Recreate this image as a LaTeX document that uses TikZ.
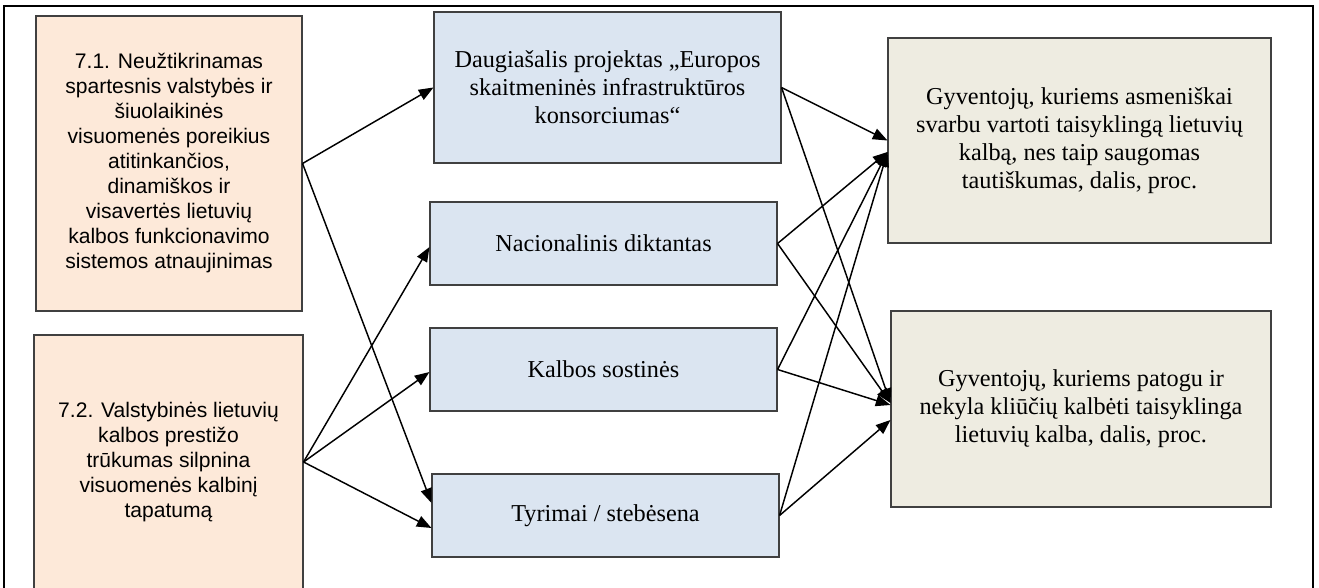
\documentclass[tikz,border=0pt]{standalone}
\usepackage{fontspec}
\setmainfont{Liberation Serif}
\newfontfamily\arialfont{Liberation Sans}
\usetikzlibrary{arrows.meta,calc}
\definecolor{peach}{HTML}{FDE9D9}
\definecolor{lblue}{HTML}{DBE5F1}
\definecolor{beige}{HTML}{EEECE1}
\definecolor{edgegray}{HTML}{404040}
\begin{document}
\begin{tikzpicture}[x=0.75pt,y=0.75pt,
  box/.style={draw=edgegray,line width=0.8pt,inner sep=0pt,align=center},
  prob/.style={box,fill=peach,font=\arialfont\fontsize{15.8}{18.75}\selectfont},
  meas/.style={box,fill=lblue,font=\fontsize{18.2}{21}\selectfont,minimum width=260.25pt,minimum height=62.25pt},
  res/.style={box,fill=beige,font=\fontsize{18.2}{21}\selectfont},
  link/.style={-{Triangle[length=11pt,width=8.5pt]},line width=1.1pt,black}]
\clip (0,0) rectangle (1319,587);
\fill[white] (0,0) rectangle (1319,587);
\draw[line width=1.6pt] (4,-5) -- (4,581) -- (1313,581) -- (1313,-5);

\node[prob,minimum width=199.5pt,minimum height=221.25pt] (A) at (169,423.5)
  {7.1. Neužtikrinamas\\spartesnis valstybės ir\\šiuolaikinės\\visuomenės poreikius\\atitinkančios,\\dinamiškos ir\\visavertės lietuvių\\kalbos funkcionavimo\\sistemos atnaujinimas};
\node[prob,minimum width=201.75pt,minimum height=190.5pt] (B) at (168.5,125)
  {7.2. Valstybinės lietuvių\\kalbos prestižo\\trūkumas silpnina\\visuomenės kalbinį\\tapatumą};

\node[meas,minimum height=113.25pt] (D) at (607.5,499.5)
  {Daugiašalis projektas „Europos\\skaitmeninės infrastruktūros\\konsorciumas“};
\node[meas] (N) at (603.5,343.5) {Nacionalinis diktantas};
\node[meas] (K) at (603.5,217.5) {Kalbos sostinės};
\node[meas] (T) at (605.5,71.5) {Tyrimai / stebėsena};

\node[res,minimum width=287.25pt,minimum height=153.75pt] (R1) at (1079.5,446.5)
  {Gyventojų, kuriems asmeniškai\\svarbu vartoti taisyklingą lietuvių\\kalbą, nes taip saugomas\\tautiškumas, dalis, proc.};
\node[res,minimum width=285pt,minimum height=147pt] (R2) at (1081,178)
  {Gyventojų, kuriems patogu ir\\nekyla kliūčių kalbėti taisyklinga\\lietuvių kalba, dalis, proc.};

\draw[link] (A.east) -- (D.west);
\draw[link] (A.east) -- ($(T.west)+(0,12.5)$);
\draw[link] (B.east) -- ($(N.west)+(0,-3.5)$);
\draw[link] (B.east) -- ($(K.west)+(0,-2.5)$);
\draw[link] (B.east) -- ($(T.west)+(0,-12.5)$);

\draw[link] (D.east) -- (R1.west);
\draw[link] (D.east) -- ($(R2.west)+(0,6)$);
\draw[link] (N.east) -- ($(R1.west)+(0,-11.5)$);
\draw[link] (N.east) -- ($(R2.west)+(0,6)$);
\draw[link] (K.east) -- ($(R1.west)+(0,-11.5)$);
\draw[link] (K.east) -- ($(R2.west)+(0,4)$);
\draw[link] (T.east) -- ($(R1.west)+(0,-11.5)$);
\draw[link] (T.east) -- ($(R2.west)+(0,-11)$);
\end{tikzpicture}
\end{document}
